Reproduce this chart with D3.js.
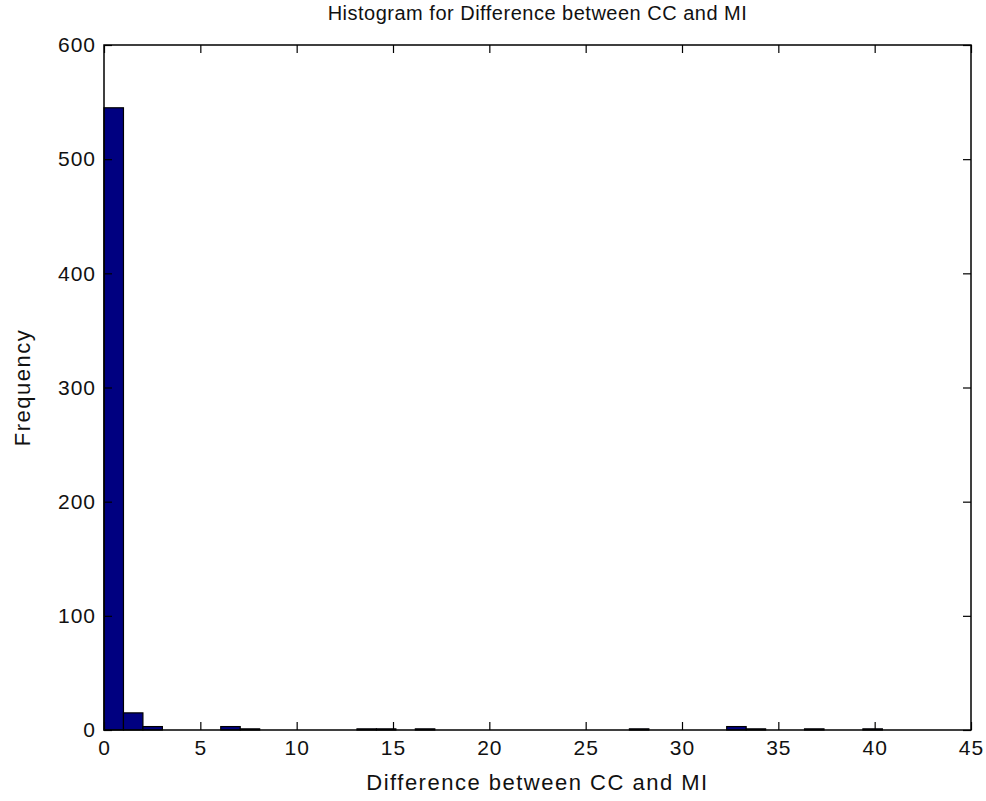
<!DOCTYPE html>
<html>
<head>
<meta charset="utf-8">
<script src="https://cdn.jsdelivr.net/npm/d3@7"></script>
<style>
  body { margin: 0; background: #fff; }
  text { font-family: "Liberation Sans", Arial, sans-serif; fill: #111; }
</style>
</head>
<body>
<svg width="986" height="801"></svg>
<script>
// histogram counts, 40 bins from 0 to ~40.4
var binWidth = 1.01;
var counts = [545, 15, 3, 0, 0, 0, 3, 1, 0, 0,
              0, 0, 0, 1, 1, 0, 1, 0, 0, 0,
              0, 0, 0, 0, 0, 0, 0, 1, 0, 0,
              0, 0, 3, 1, 0, 0, 1, 0, 0, 1];
var xTicks = [0, 5, 10, 15, 20, 25, 30, 35, 40, 45];
var yTicks = [0, 100, 200, 300, 400, 500, 600];

var svg = d3.select("svg"),
    margin = {top: 45, right: 15, bottom: 71, left: 104},
    width = 986 - margin.left - margin.right,
    height = 801 - margin.top - margin.bottom,
    g = svg.append("g").attr("transform", "translate(" + margin.left + "," + margin.top + ")");

var xScale = d3.scaleLinear().domain([0, 45]).range([0, width]),
    yScale = d3.scaleLinear().domain([0, 600]).range([height, 0]);

var bins = counts.map(function (c, i) {
    return {x0: i * binWidth, x1: (i + 1) * binWidth, count: c};
}).filter(function (d) { return d.count > 0; });

g.selectAll(".bar")
    .data(bins)
    .enter().append("rect")
    .attr("class", "bar")
    .attr("x", function (d) { return xScale(d.x0); })
    .attr("width", function (d) { return xScale(d.x1) - xScale(d.x0); })
    .attr("y", function (d) { return yScale(d.count); })
    .attr("height", function (d) { return height - yScale(d.count); })
    .attr("fill", "#000080")
    .attr("stroke", "#000")
    .attr("stroke-width", 1.2);

function styleAxis(sel, showText) {
    sel.select(".domain").remove();
    sel.selectAll("line").attr("stroke", "#000").attr("stroke-width", 1.2);
    sel.selectAll("text")
        .style("font-size", "21px")
        .style("letter-spacing", "1px")
        .attr("fill", "#111");
    if (!showText) sel.selectAll("text").remove();
}

// MATLAB-style inward ticks on all four sides
g.append("g")
    .attr("transform", "translate(0," + height + ")")
    .call(d3.axisBottom(xScale).tickValues(xTicks).tickSize(-8).tickPadding(10))
    .call(styleAxis, true);
g.append("g")
    .call(d3.axisTop(xScale).tickValues(xTicks).tickSize(-8))
    .call(styleAxis, false);
g.append("g")
    .call(d3.axisLeft(yScale).tickValues(yTicks).tickSize(-8).tickPadding(8))
    .call(styleAxis, true);
g.append("g")
    .attr("transform", "translate(" + width + ",0)")
    .call(d3.axisRight(yScale).tickValues(yTicks).tickSize(-8))
    .call(styleAxis, false);

g.append("rect")
    .attr("width", width)
    .attr("height", height)
    .attr("fill", "none")
    .attr("stroke", "#000")
    .attr("stroke-width", 1.5);

svg.append("text")
    .attr("x", margin.left + width / 2)
    .attr("y", 20)
    .attr("text-anchor", "middle")
    .style("font-size", "20px")
    .style("letter-spacing", "0.5px")
    .text("Histogram for Difference between CC and MI");

svg.append("text")
    .attr("x", margin.left + width / 2)
    .attr("y", 790)
    .attr("text-anchor", "middle")
    .style("font-size", "22px")
    .style("letter-spacing", "1.5px")
    .text("Difference between CC and MI");

svg.append("text")
    .attr("transform", "translate(30," + (margin.top + height / 2) + ") rotate(-90)")
    .attr("text-anchor", "middle")
    .style("font-size", "22px")
    .style("letter-spacing", "1.5px")
    .text("Frequency");
</script>
</body>
</html>
